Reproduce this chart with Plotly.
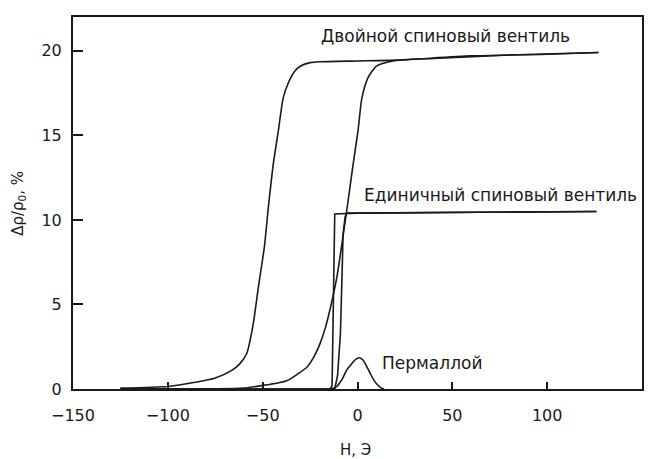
import plotly.graph_objects as go

# Double spin valve: field sweep down (left branch) and up (right branch)
dbl_down_H = [-125, -100, -88, -75, -66.3, -62, -58.4, -54.9, -52.3, -49.1, -47.0, -44.4,
              -41.7, -39.2, -36.5, -33, -30, -25, -20, 0, 20, 60, 100, 127]
dbl_down_R = [0.05, 0.15, 0.35, 0.65, 1.1, 1.5, 2.1, 3.9, 6.0, 8.4, 10.75, 13.3,
              15.3, 17.2, 18.1, 18.8, 19.1, 19.3, 19.35, 19.4, 19.45, 19.7, 19.8, 19.9]
dbl_up_H = [-125, -60, -47.7, -42, -37, -32, -26.6, -23, -19.7, -17, -14.5, -10.9, -8.2, -5.6, -2.3, 0.3,
            2.3, 5.5, 10, 18.7, 40, 80, 127]
dbl_up_R = [0.0, 0.05, 0.25, 0.35, 0.5, 0.85, 1.3, 1.9, 2.7, 3.6, 4.7, 6.6, 8.6, 10.6, 13.3, 15.3,
            17.2, 18.4, 19.1, 19.4, 19.55, 19.75, 19.9]

# Single spin valve
sgl_down_H = [-125, -14.5, -13.4, -12.8, -12.0, 0, 60, 126]
sgl_down_R = [0.0, 0.0, 0.2, 5.0, 10.35, 10.4, 10.45, 10.5]
sgl_up_H = [-125, -12, -10.5, -9, -8.2, -7.6, -6.5, -5.5, 0, 60, 126]
sgl_up_R = [0.0, 0.0, 0.8, 3.3, 6.5, 9.2, 10.2, 10.4, 10.4, 10.45, 10.5]

# Permalloy
perm_H = [-14, -11, -8, -5.7, -3, -1, 1, 3, 5, 6.6, 9, 12, 14]
perm_R = [0.0, 0.14, 0.6, 1.12, 1.5, 1.75, 1.85, 1.7, 1.3, 0.95, 0.45, 0.1, 0.0]

labels = ["Двойной спиновый вентиль", "Единичный спиновый вентиль", "Пермаллой"]
label_H = [46.6, 75.2, 39.3]
label_R = [20.9, 11.45, 1.53]

x_ticks = [-150, -100, -50, 0, 50, 100, 150]
x_ticktext = ["−150", "−100", "−50", "0", "50", "100", "150"]
y_ticks = [0, 5, 10, 15, 20]

FONT = "DejaVu Sans"
ink = "#1a1a1a"

fig = go.Figure()
for H, R, shape in [(dbl_down_H, dbl_down_R, "spline"), (dbl_up_H, dbl_up_R, "spline"),
                    (sgl_down_H, sgl_down_R, "linear"), (sgl_up_H, sgl_up_R, "linear"),
                    (perm_H, perm_R, "spline")]:
    line = dict(color=ink, width=1.6, shape=shape)
    if shape == "spline":
        line["smoothing"] = 0.6
    fig.add_trace(go.Scatter(x=H, y=R, mode="lines", line=line,
                             showlegend=False, hoverinfo="skip"))

for t, hx, ry in zip(labels, label_H, label_R):
    fig.add_annotation(x=hx, y=ry, text=t, showarrow=False, xanchor="center", yanchor="middle",
                       font=dict(family=FONT, size=17, color=ink))

# axis titles
fig.add_annotation(xref="paper", yref="y", x=-0.097, y=11.0, text="Δρ/ρ<sub>0</sub>, %",
                   textangle=-90, showarrow=False, xanchor="center", yanchor="middle",
                   font=dict(family=FONT, size=15, color=ink))
fig.add_annotation(xref="x", yref="paper", x=-1, y=-0.164, text="H, Э",
                   showarrow=False, xanchor="center", yanchor="middle",
                   font=dict(family=FONT, size=15, color=ink))

# the page body has an 8 px default margin: figure is shifted by (8, 8)
fig.update_layout(
    width=648, height=451,
    margin=dict(l=65, r=14, t=9, b=70, autoexpand=False),
    paper_bgcolor="white", plot_bgcolor="white",
    font=dict(family=FONT, size=16, color=ink),
    xaxis=dict(range=[-150, 150], tickvals=x_ticks, ticktext=x_ticktext,
               ticks="inside", ticklen=7, tickwidth=1.5, tickcolor=ink, ticklabelstandoff=11,
               showline=True, linecolor=ink, linewidth=2, mirror=True, showgrid=False, zeroline=False,
               automargin=False, tickfont=dict(size=16)),
    yaxis=dict(range=[0, 22], tickvals=y_ticks, ticks="inside", ticklen=10, tickwidth=1.5, tickcolor=ink,
               ticklabelstandoff=6, showline=True, linecolor=ink, linewidth=2, mirror=True,
               showgrid=False, zeroline=False, automargin=False, tickfont=dict(size=16)),
)

fig.write_html("out.html")
